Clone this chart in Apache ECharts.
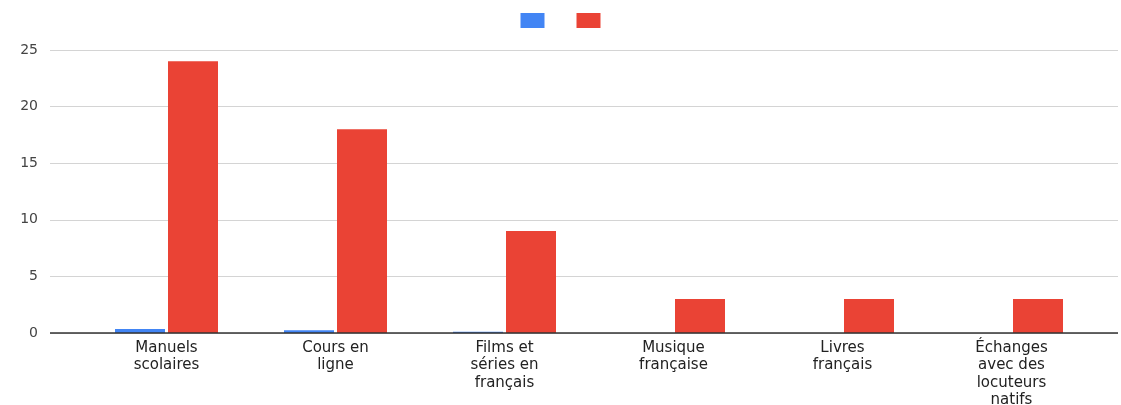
<!DOCTYPE html>
<html>
<head>
<meta charset="utf-8">
<script src="https://cdn.jsdelivr.net/npm/echarts@6/dist/echarts.min.js"></script>
<style>
html, body { margin: 0; padding: 0; background: #fff; }
#chart { width: 1121px; height: 405px; }
</style>
</head>
<body>
<div id="chart"></div>
<script>
const categories = [
    'Manuels\nscolaires',
    'Cours en\nligne',
    'Films et\nséries en\nfrançais',
    'Musique\nfrançaise',
    'Livres\nfrançais',
    'Échanges\navec des\nlocuteurs\nnatifs'
];
const blueValues = [0.35, 0.25, 0.1, 0, 0, 0];
const redValues = [24, 18, 9, 3, 3, 3];
const yTicks = [0, 5, 10, 15, 20, 25];

const chart = echarts.init(document.getElementById('chart'));

const labelFont = 'DejaVu Sans, Verdana, sans-serif';

const option = {
    backgroundColor: '#fff',
    animation: false,
    legend: {
        top: 8,
        left: 'center',
        itemWidth: 24,
        itemHeight: 15,
        itemGap: 32,
        icon: 'rect',
        formatter: () => '',
        data: ['s1', 's2']
    },
    grid: [
        // bars grid
        { left: 82, right: 25, top: 50, bottom: 72, outerBoundsMode: 'none', containLabel: false },
        // background grid for the gridlines and y labels
        { left: 50, right: 3, top: 50, bottom: 72, outerBoundsMode: 'none', containLabel: false }
    ],
    xAxis: [
        {
            type: 'category',
            gridIndex: 0,
            data: categories,
            axisLine: { show: false },
            axisTick: { show: false },
            axisLabel: {
                color: '#222',
                fontSize: 15,
                fontFamily: labelFont,
                lineHeight: 17.5,
                margin: 6,
                interval: 0
            }
        },
        {
            type: 'value',
            gridIndex: 1,
            show: false
        }
    ],
    yAxis: [
        {
            type: 'value',
            gridIndex: 0,
            min: 0,
            max: 25,
            interval: 5,
            show: false
        },
        {
            type: 'value',
            gridIndex: 1,
            min: yTicks[0],
            max: yTicks[yTicks.length - 1],
            interval: 5,
            axisLine: { show: false },
            axisTick: { show: false },
            axisLabel: {
                color: '#444',
                fontSize: 14,
                fontFamily: labelFont,
                margin: 12
            },
            splitLine: {
                lineStyle: { color: '#d4d4d4', width: 1 }
            }
        }
    ],
    series: [
        {
            name: 's1',
            type: 'bar',
            xAxisIndex: 0,
            yAxisIndex: 0,
            data: blueValues,
            barWidth: 50,
            barGap: '6%',
            itemStyle: { color: '#4285f4' },
            z: 3
        },
        {
            name: 's2',
            type: 'bar',
            xAxisIndex: 0,
            yAxisIndex: 0,
            data: redValues,
            barWidth: 50,
            barGap: '6%',
            itemStyle: { color: '#ea4335' },
            z: 3
        },
        {
            // baseline drawn on the background grid
            type: 'line',
            xAxisIndex: 1,
            yAxisIndex: 1,
            data: [],
            markLine: {
                silent: true,
                symbol: 'none',
                label: { show: false },
                lineStyle: { color: '#333', width: 1.5, type: 'solid' },
                data: [{ yAxis: 0 }]
            },
            z: 4
        }
    ]
};

chart.setOption(option);
</script>
</body>
</html>
